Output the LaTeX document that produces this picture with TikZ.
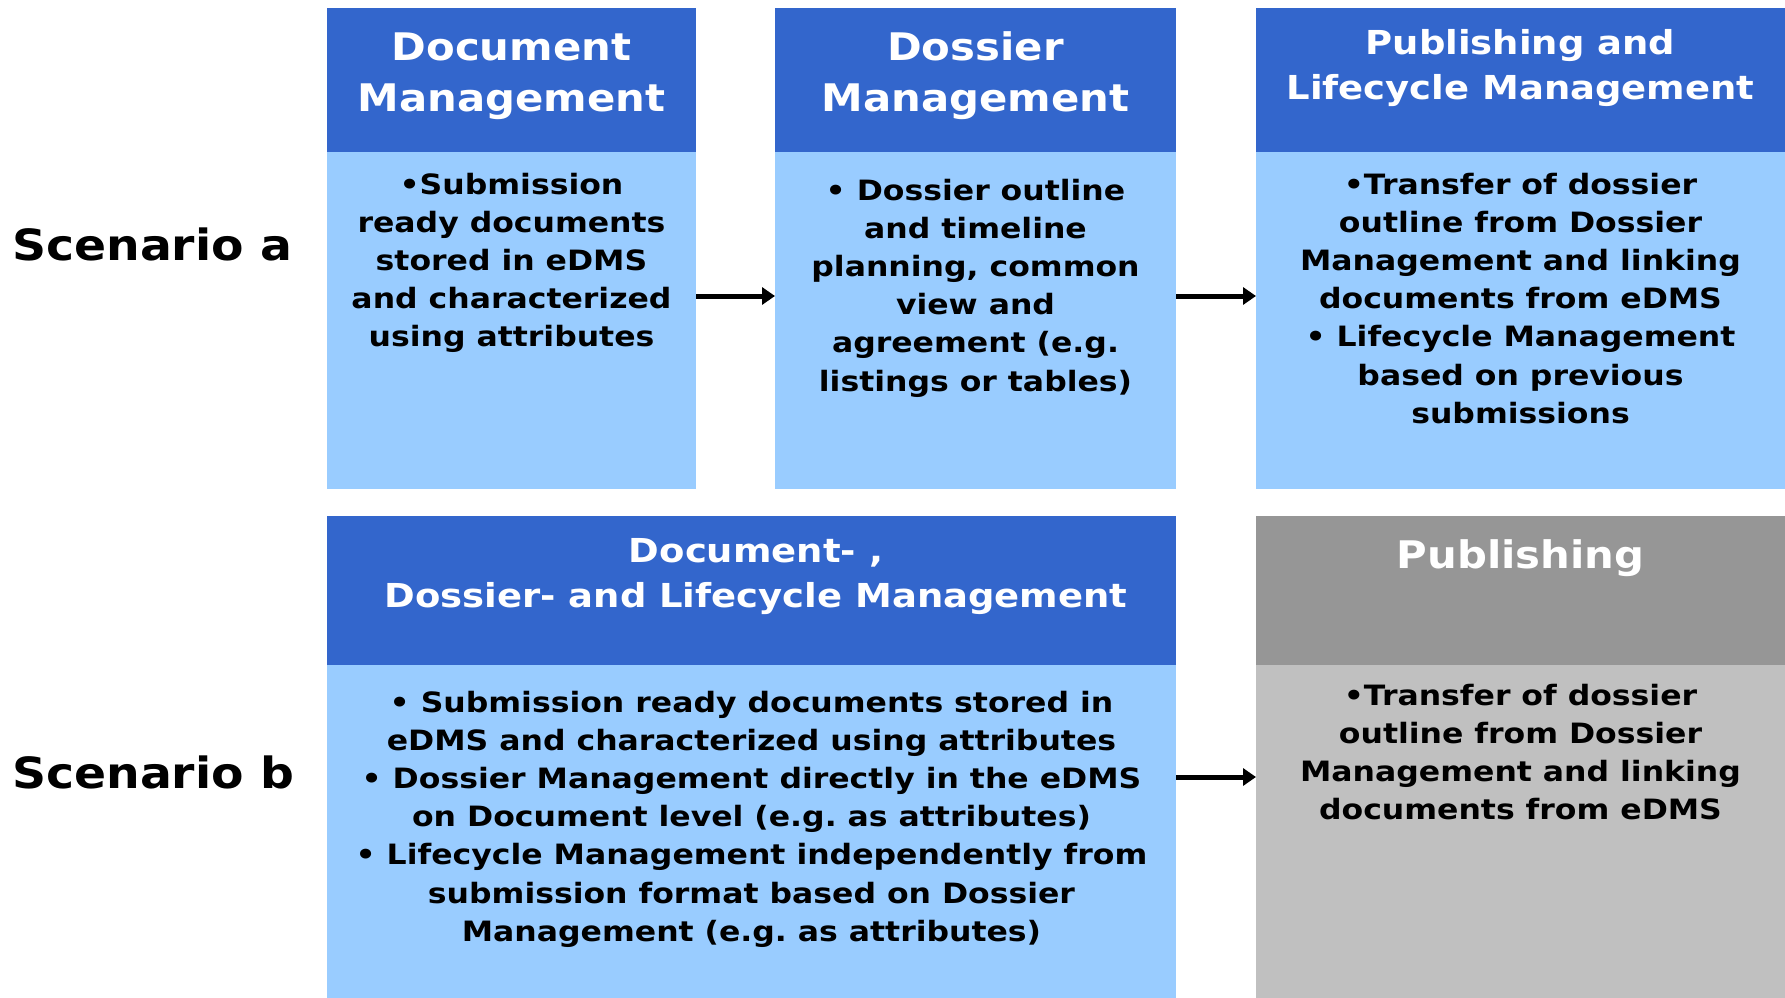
\documentclass[tikz,border=0pt]{standalone}
\usepackage{fontspec}
\usetikzlibrary{arrows.meta}
\newfontfamily\vf[FakeStretch=1.1]{DejaVu Sans}
\newfontfamily\vfb[FakeStretch=1.125]{DejaVu Sans}
\newfontfamily\vfh[FakeStretch=1.12]{DejaVu Sans}
\definecolor{hblue}{HTML}{3366CC}
\definecolor{lblue}{HTML}{99CCFF}
\definecolor{hgray}{HTML}{969696}
\definecolor{lgray}{HTML}{C0C0C0}
\newcommand\tlines[1]{\begin{tabular}[t]{@{}c@{}}#1\end{tabular}}
\tikzset{
  panel/.style={draw=none, inner sep=0pt, outer sep=0pt, anchor=north west},
  hdr/.style={panel, fill=hblue},
  bdy/.style={panel, fill=lblue},
  ghdr/.style={panel, fill=hgray},
  gbdy/.style={panel, fill=lgray},
  htxt/.style={anchor=base, inner sep=0pt, text=white, font=\vf\bfseries\fontsize{38}{51}\selectfont},
  hstxt/.style={anchor=base, inner sep=0pt, text=white, font=\vfh\bfseries\fontsize{33}{45}\selectfont},
  btxt/.style={anchor=base, inner sep=0pt, text=black, font=\vfb\bfseries\fontsize{28}{38.2}\selectfont},
  stxt/.style={anchor=base west, inner sep=0pt, text=black, font=\vf\bfseries\fontsize{43}{50}\selectfont},
  arr/.style={line width=5pt, -{Triangle[length=13pt,width=17pt]}, shorten >=0pt}
}
\begin{document}
\frenchspacing
\begin{tikzpicture}[x=1pt,y=-1pt]
\fill[white] (0,0) rectangle (1785,998);
\useasboundingbox (0,0) rectangle (1785,998);
% row a
\node[hdr, minimum width=369pt, minimum height=144pt] (h1) at (327,8) {};
\node[bdy, minimum width=369pt, minimum height=337pt] (b1) at (327,152) {};
\node[hdr, minimum width=401pt, minimum height=144pt] (h2) at (775,8) {};
\node[bdy, minimum width=401pt, minimum height=337pt] (b2) at (775,152) {};
\node[hdr, minimum width=529pt, minimum height=144pt] (h3) at (1256,8) {};
\node[bdy, minimum width=529pt, minimum height=337pt] (b3) at (1256,152) {};
% row b
\node[hdr, minimum width=849pt, minimum height=149pt] (h4) at (327,516) {};
\node[bdy, minimum width=849pt, minimum height=333pt] (b4) at (327,665) {};
\node[ghdr, minimum width=529pt, minimum height=149pt] (h5) at (1256,516) {};
\node[gbdy, minimum width=529pt, minimum height=333pt] (b5) at (1256,665) {};
% labels
\node[stxt] (sa) at (12,260) {Scenario a};
\node[stxt] (sb) at (12,788) {Scenario b};
% header texts
\node[htxt] (t1) at (511.5,61) {\tlines{Document\\Management}};
\node[htxt] (t2) at (975.5,61) {\tlines{Dossier\\Management}};
\node[hstxt] (t3) at (1520.5,55) {\tlines{Publishing and\\Lifecycle Management}};
\node[hstxt] (t4) at (756,562) {\tlines{Document- ,\\Dossier- and Lifecycle Management}};
\node[htxt] (t5) at (1520.5,568) {Publishing};
% body texts
\node[btxt] (c1) at (511.5,194) {\tlines{\textbullet Submission\\ready documents\\stored in eDMS\\and characterized\\using attributes}};
\node[btxt] (c2) at (975.5,200) {\tlines{\textbullet{} Dossier outline\\and timeline\\planning, common\\view and\\agreement (e.g.\\listings or tables)}};
\node[btxt] (c3) at (1520.5,194) {\tlines{\textbullet Transfer of dossier\\outline from Dossier\\Management and linking\\documents from eDMS\\\textbullet{} Lifecycle Management\\based on previous\\submissions}};
\node[btxt] (c4) at (751.5,712) {\tlines{\textbullet{} Submission ready documents stored in\\eDMS and characterized using attributes\\\textbullet{} Dossier Management directly in the eDMS\\on Document level (e.g. as attributes)\\\textbullet{} Lifecycle Management independently from\\submission format based on Dossier\\Management (e.g. as attributes)}};
\node[btxt] (c5) at (1520.5,705) {\tlines{\textbullet Transfer of dossier\\outline from Dossier\\Management and linking\\documents from eDMS}};
% arrows
\draw[arr] ([yshift=24.5pt]b1.east) -- ([yshift=24.5pt]b2.west);
\draw[arr] ([yshift=24.5pt]b2.east) -- ([yshift=24.5pt]b3.west);
\draw[arr] ([yshift=54.5pt]b4.east) -- ([yshift=54.5pt]b5.west);
\end{tikzpicture}
\end{document}
